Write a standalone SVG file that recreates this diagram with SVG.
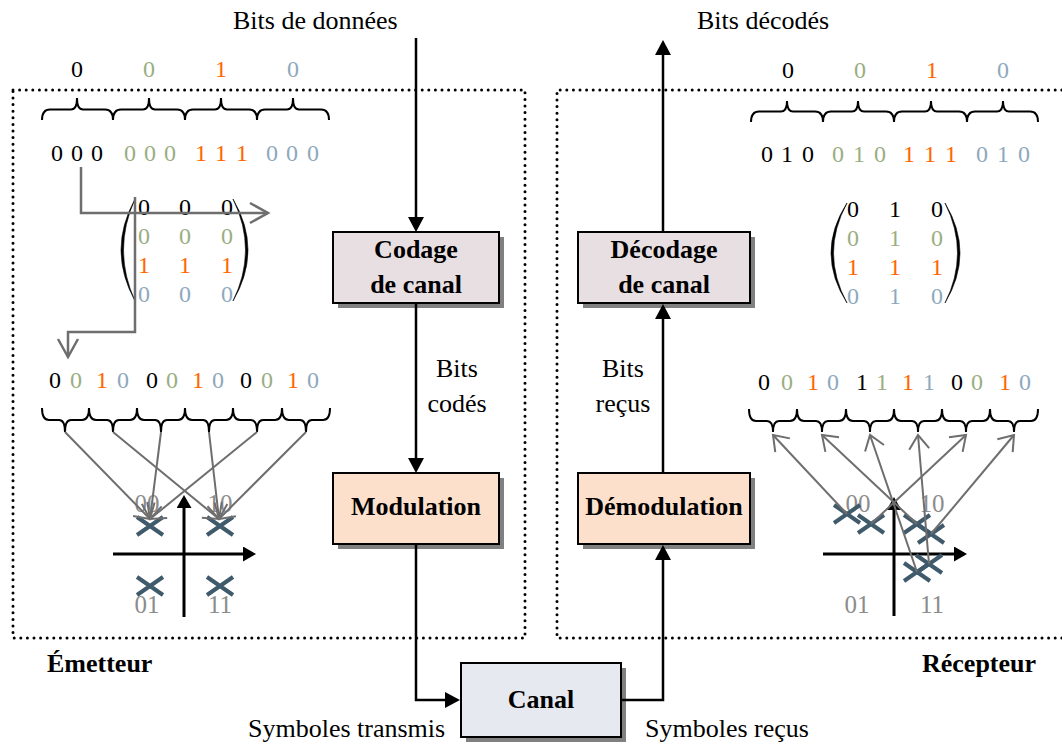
<svg xmlns="http://www.w3.org/2000/svg" width="1062" height="745" viewBox="0 0 1062 745">
<defs>
<style>
text{font-family:"Liberation Serif","Times New Roman",serif;}
.lbl{font-size:26px;fill:#000;}
.ctr{text-anchor:middle;}
.bold{font-size:26px;font-weight:bold;fill:#000;}
.d{font-size:24px;text-anchor:middle;}
.k{fill:#000}.g{fill:#9aae82}.o{fill:#ff6600}.b{fill:#8ea9bd}
.q{font-size:25px;fill:#8c8c8c;text-anchor:middle;}
.dot{fill:none;stroke:#000;stroke-width:3;stroke-linecap:round;stroke-dasharray:0 6.6;}
.box{stroke:#000;stroke-width:2;}
.shadow{fill:#808080;}
.cod{fill:#e8dfe3}.mod{fill:#fde0cc}.can{fill:#e6e9ef}
.conn{fill:none;stroke:#000;stroke-width:2.5;}
.brace{fill:none;stroke:#000;stroke-width:2;}
.garr{fill:none;stroke:#6e6e6e;stroke-width:2.5;}
.carr{fill:none;stroke:#6e6e6e;stroke-width:2;}
.cx{stroke:#3f5a6b;stroke-width:4;fill:none;}
.axis{stroke:#000;stroke-width:3;fill:none;}
.paren{fill:#000;stroke:#000;stroke-width:0.6;}
</style>
<marker id="ah" viewBox="0 0 15 16" refX="11" refY="8" markerWidth="15" markerHeight="16" markerUnits="userSpaceOnUse" orient="auto"><path d="M0,0 L15,8 L0,16 Z" fill="#000"/></marker>
<marker id="aa" viewBox="0 0 13 15" refX="10" refY="7.5" markerWidth="13" markerHeight="15" markerUnits="userSpaceOnUse" orient="auto"><path d="M0,0 L13,7.5 L0,15 Z" fill="#000"/></marker>
<marker id="ga" viewBox="-1 -1 19 24" refX="15" refY="11" markerWidth="19" markerHeight="24" markerUnits="userSpaceOnUse" orient="auto"><path d="M1,1 L15,11 L1,21" fill="none" stroke="#6e6e6e" stroke-width="2"/></marker>
<marker id="gl" viewBox="-1 -1 23 24" refX="19" refY="11" markerWidth="23" markerHeight="24" markerUnits="userSpaceOnUse" orient="auto"><path d="M1,1 L19,11 L1,21" fill="none" stroke="#6e6e6e" stroke-width="2.5"/></marker>
<path id="xm" d="M-13,-9 L13,9 M-13,9 L13,-9"/>
</defs>
<rect width="1062" height="745" fill="#fff"/>

<g id="emetteur-frame">
<path class="dot" d="M13,90 L525,90 L525,638 L13,638 Z"/>
<text class="bold" x="47" y="672">Émetteur</text>
</g>
<g id="recepteur-frame">
<path class="dot" d="M1075,90 L557,90 L557,638 L1075,638"/>
<text class="bold" x="922" y="672">Récepteur</text>
</g>

<g id="codage">
<rect class="shadow" x="338" y="237" width="166" height="71"/>
<rect class="box cod" x="333" y="232" width="166" height="71"/>
<text class="bold ctr" x="416" y="258">Codage</text>
<text class="bold ctr" x="416" y="293">de canal</text>
</g>
<g id="modulation">
<rect class="shadow" x="338" y="478" width="166" height="71"/>
<rect class="box mod" x="333" y="473" width="166" height="71"/>
<text class="bold ctr" x="416" y="515">Modulation</text>
</g>
<g id="decodage">
<rect class="shadow" x="583" y="237" width="172" height="71"/>
<rect class="box cod" x="578" y="232" width="172" height="71"/>
<text class="bold ctr" x="664" y="258">Décodage</text>
<text class="bold ctr" x="664" y="293">de canal</text>
</g>
<g id="demodulation">
<rect class="shadow" x="583" y="478" width="172" height="71"/>
<rect class="box mod" x="578" y="473" width="172" height="71"/>
<text class="bold ctr" x="664" y="515">Démodulation</text>
</g>
<g id="canal">
<rect class="shadow" x="466" y="668" width="160" height="74"/>
<rect class="box can" x="461" y="663" width="160" height="74"/>
<text class="bold ctr" x="541" y="708">Canal</text>
</g>

<g id="connectors">
<path class="conn" marker-end="url(#ah)" d="M416,38 L416,228"/>
<path class="conn" marker-end="url(#ah)" d="M416,304 L416,469"/>
<path class="conn" marker-end="url(#ah)" d="M416,545 L416,700 L456,700"/>
<path class="conn" marker-end="url(#ah)" d="M621,700 L663,700 L663,549"/>
<path class="conn" marker-end="url(#ah)" d="M663,473 L663,308"/>
<path class="conn" marker-end="url(#ah)" d="M663,232 L663,44"/>
</g>

<g id="labels">
<text class="lbl" x="233" y="29">Bits de données</text>
<text class="lbl" x="697" y="29">Bits décodés</text>
<text class="lbl ctr" x="457" y="377">Bits</text>
<text class="lbl ctr" x="457" y="412">codés</text>
<text class="lbl ctr" x="623" y="377">Bits</text>
<text class="lbl ctr" x="623" y="412">reçus</text>
<text class="lbl" x="248" y="737">Symboles transmis</text>
<text class="lbl" x="645" y="737">Symboles reçus</text>
</g>

<g id="emetteur-detail">
<text class="d k" x="77" y="77">0</text><text class="d g" x="149" y="77">0</text><text class="d o" x="221" y="77">1</text><text class="d b" x="293" y="77">0</text>
<path class="brace" d="M42,120 Q42,109.5 50,109.5 L71,109.5 Q77,109.5 77,98 Q77,109.5 83,109.5 L105,109.5 Q113,109.5 113,120"/>
<path class="brace" d="M113,120 Q113,109.5 121,109.5 L143,109.5 Q149,109.5 149,98 Q149,109.5 155,109.5 L177,109.5 Q185,109.5 185,120"/>
<path class="brace" d="M185,120 Q185,109.5 193,109.5 L215,109.5 Q221,109.5 221,98 Q221,109.5 227,109.5 L249,109.5 Q257,109.5 257,120"/>
<path class="brace" d="M257,120 Q257,109.5 265,109.5 L287,109.5 Q293,109.5 293,98 Q293,109.5 299,109.5 L321,109.5 Q329,109.5 329,120"/>
<text class="d k" x="57" y="161">0</text><text class="d k" x="77" y="161">0</text><text class="d k" x="97" y="161">0</text>
<text class="d g" x="130" y="161">0</text><text class="d g" x="150" y="161">0</text><text class="d g" x="170" y="161">0</text>
<text class="d o" x="201" y="161">1</text><text class="d o" x="221" y="161">1</text><text class="d o" x="242" y="161">1</text>
<text class="d b" x="272" y="161">0</text><text class="d b" x="292" y="161">0</text><text class="d b" x="313" y="161">0</text>
<path class="paren" d="M135,199 Q107,250 135,301 Q112,250 135,199 Z"/>
<path class="paren" d="M233,199 Q263,250 233,301 Q258,250 233,199 Z"/>
<text class="d k" x="144" y="215">0</text><text class="d k" x="185" y="215">0</text><text class="d k" x="227" y="215">0</text>
<text class="d g" x="144" y="244">0</text><text class="d g" x="185" y="244">0</text><text class="d g" x="227" y="244">0</text>
<text class="d o" x="144" y="273">1</text><text class="d o" x="185" y="273">1</text><text class="d o" x="227" y="273">1</text>
<text class="d b" x="144" y="302">0</text><text class="d b" x="185" y="302">0</text><text class="d b" x="227" y="302">0</text>
<path class="garr" marker-end="url(#gl)" d="M81,167 L81,213 L268,213"/>
<path class="garr" marker-end="url(#gl)" d="M135,197 L135,332 L68,332 L68,357"/>
<text class="d k" x="55" y="388">0</text><text class="d g" x="76" y="388">0</text><text class="d o" x="102" y="388">1</text><text class="d b" x="123" y="388">0</text>
<text class="d k" x="152" y="388">0</text><text class="d g" x="172" y="388">0</text><text class="d o" x="198" y="388">1</text><text class="d b" x="218" y="388">0</text>
<text class="d k" x="246" y="388">0</text><text class="d g" x="267" y="388">0</text><text class="d o" x="293" y="388">1</text><text class="d b" x="313" y="388">0</text>
<path class="brace" d="M42,408 Q42,420 49,420 L59,420 Q65,420 65,432 Q65,420 71,420 L82,420 Q89,420 89,408"/>
<path class="brace" d="M89,408 Q89,420 96,420 L107,420 Q113,420 113,432 Q113,420 119,420 L130,420 Q137,420 137,408"/>
<path class="brace" d="M137,408 Q137,420 144,420 L155,420 Q161,420 161,432 Q161,420 167,420 L178,420 Q185,420 185,408"/>
<path class="brace" d="M185,408 Q185,420 192,420 L203,420 Q209,420 209,432 Q209,420 215,420 L226,420 Q233,420 233,408"/>
<path class="brace" d="M233,408 Q233,420 240,420 L251,420 Q257,420 257,432 Q257,420 263,420 L275,420 Q282,420 282,408"/>
<path class="brace" d="M282,408 Q282,420 289,420 L300,420 Q306,420 306,432 Q306,420 312,420 L323,420 Q330,420 330,408"/>
<text class="q" x="147" y="512">00</text><text class="q" x="220" y="512">10</text>
<text class="q" x="147" y="613">01</text><text class="q" x="220" y="613">11</text>
<path class="axis" marker-end="url(#aa)" d="M113,554 L253,554"/>
<path class="axis" marker-end="url(#aa)" d="M184,617 L184,498"/>
<use href="#xm" class="cx" x="150" y="526"/><use href="#xm" class="cx" x="220" y="526"/>
<use href="#xm" class="cx" x="150" y="586"/><use href="#xm" class="cx" x="220" y="586"/>
<path class="carr" marker-end="url(#ga)" d="M65,432 L150,519"/>
<path class="carr" marker-end="url(#ga)" d="M113,432 L219,519"/>
<path class="carr" marker-end="url(#ga)" d="M161,432 L150,519"/>
<path class="carr" marker-end="url(#ga)" d="M209,432 L219,519"/>
<path class="carr" marker-end="url(#ga)" d="M257,432 L150,519"/>
<path class="carr" marker-end="url(#ga)" d="M306,432 L219,519"/>
</g>

<g id="recepteur-detail">
<text class="d k" x="788" y="78">0</text><text class="d g" x="860" y="78">0</text><text class="d o" x="932" y="78">1</text><text class="d b" x="1003" y="78">0</text>
<path class="brace" d="M751,122 Q751,111.5 759,111.5 L781,111.5 Q787,111.5 787,101 Q787,111.5 793,111.5 L815,111.5 Q823,111.5 823,122"/>
<path class="brace" d="M823,122 Q823,111.5 831,111.5 L852,111.5 Q858,111.5 858,101 Q858,111.5 864,111.5 L886,111.5 Q894,111.5 894,122"/>
<path class="brace" d="M894,122 Q894,111.5 902,111.5 L925,111.5 Q931,111.5 931,101 Q931,111.5 937,111.5 L959,111.5 Q967,111.5 967,122"/>
<path class="brace" d="M967,122 Q967,111.5 975,111.5 L997,111.5 Q1003,111.5 1003,101 Q1003,111.5 1009,111.5 L1030,111.5 Q1038,111.5 1038,122"/>
<text class="d k" x="767" y="162">0</text><text class="d k" x="787" y="162">1</text><text class="d k" x="808" y="162">0</text>
<text class="d g" x="838" y="162">0</text><text class="d g" x="859" y="162">1</text><text class="d g" x="880" y="162">0</text>
<text class="d o" x="909" y="162">1</text><text class="d o" x="930" y="162">1</text><text class="d o" x="951" y="162">1</text>
<text class="d b" x="982" y="162">0</text><text class="d b" x="1003" y="162">1</text><text class="d b" x="1024" y="162">0</text>
<path class="paren" d="M847,203 Q815,253 847,303 Q820,253 847,203 Z"/>
<path class="paren" d="M945,203 Q975,253 945,303 Q970,253 945,203 Z"/>
<text class="d k" x="853" y="217">0</text><text class="d k" x="895" y="217">1</text><text class="d k" x="937" y="217">0</text>
<text class="d g" x="853" y="246">0</text><text class="d g" x="895" y="246">1</text><text class="d g" x="937" y="246">0</text>
<text class="d o" x="853" y="275">1</text><text class="d o" x="895" y="275">1</text><text class="d o" x="937" y="275">1</text>
<text class="d b" x="853" y="304">0</text><text class="d b" x="895" y="304">1</text><text class="d b" x="937" y="304">0</text>
<text class="d k" x="764" y="390">0</text><text class="d g" x="787" y="390">0</text><text class="d o" x="813" y="390">1</text><text class="d b" x="833" y="390">0</text>
<text class="d k" x="862" y="390">1</text><text class="d g" x="882" y="390">1</text><text class="d o" x="908" y="390">1</text><text class="d b" x="929" y="390">1</text>
<text class="d k" x="957" y="390">0</text><text class="d g" x="977" y="390">0</text><text class="d o" x="1005" y="390">1</text><text class="d b" x="1025" y="390">0</text>
<path class="brace" d="M749,409 Q749,421 756,421 L767,421 Q773,421 773,432 Q773,421 779,421 L790,421 Q797,421 797,409"/>
<path class="brace" d="M797,409 Q797,421 804,421 L816,421 Q822,421 822,432 Q822,421 828,421 L839,421 Q846,421 846,409"/>
<path class="brace" d="M846,409 Q846,421 853,421 L864,421 Q870,421 870,432 Q870,421 876,421 L887,421 Q894,421 894,409"/>
<path class="brace" d="M894,409 Q894,421 901,421 L912,421 Q918,421 918,432 Q918,421 924,421 L935,421 Q942,421 942,409"/>
<path class="brace" d="M942,409 Q942,421 949,421 L960,421 Q966,421 966,432 Q966,421 972,421 L983,421 Q990,421 990,409"/>
<path class="brace" d="M990,409 Q990,421 997,421 L1008,421 Q1014,421 1014,432 Q1014,421 1020,421 L1031,421 Q1038,421 1038,409"/>
<text class="q" x="858" y="512">00</text><text class="q" x="932" y="512">10</text>
<text class="q" x="857" y="613">01</text><text class="q" x="932" y="613">11</text>
<path class="axis" marker-end="url(#aa)" d="M823,554 L964,554"/>
<path class="axis" marker-end="url(#aa)" d="M894,616 L894,500"/>
<use href="#xm" class="cx" x="847" y="514"/><use href="#xm" class="cx" x="871" y="524"/>
<use href="#xm" class="cx" x="917" y="524"/><use href="#xm" class="cx" x="931" y="534"/>
<use href="#xm" class="cx" x="917" y="572"/><use href="#xm" class="cx" x="929" y="564"/>
<path class="carr" marker-end="url(#ga)" d="M847,514 L773,435"/>
<path class="carr" marker-end="url(#ga)" d="M917,524 L822,435"/>
<path class="carr" marker-end="url(#ga)" d="M917,572 L870,435"/>
<path class="carr" marker-end="url(#ga)" d="M929,564 L918,435"/>
<path class="carr" marker-end="url(#ga)" d="M871,524 L966,435"/>
<path class="carr" marker-end="url(#ga)" d="M931,534 L1014,435"/>
</g>
</svg>
